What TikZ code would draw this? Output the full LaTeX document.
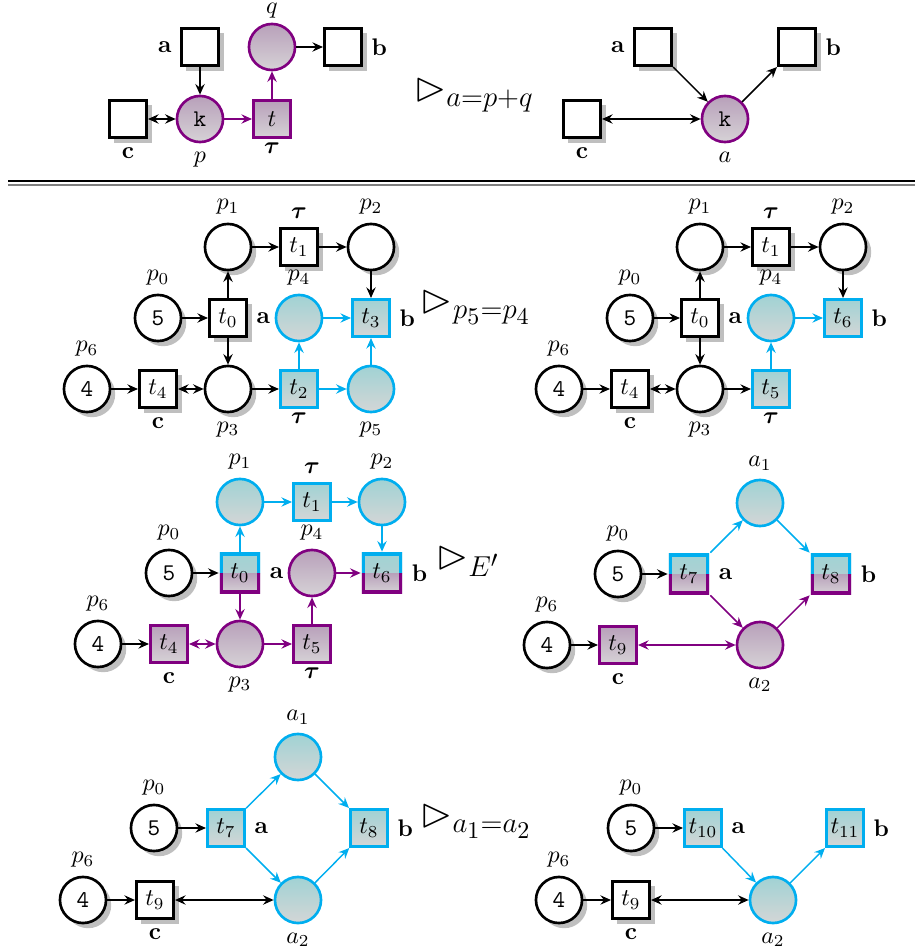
\documentclass[tikz,border=0pt]{standalone}
\usepackage{amssymb,bm}
\usetikzlibrary{arrows.meta,shadows}

\definecolor{cyanedge}{RGB}{0,174,239}
\definecolor{cyantop}{RGB}{160,210,212}
\definecolor{cyanmid}{RGB}{186,208,209}
\definecolor{cyanbot}{RGB}{212,214,214}
\definecolor{purpedge}{RGB}{128,0,128}
\definecolor{purptop}{RGB}{184,160,186}
\definecolor{purpbot}{RGB}{214,210,214}

\tikzset{
  netplace/.style={circle, draw, line width=1.1pt, minimum size=19.2pt, inner sep=0pt},
  nettrans/.style={rectangle, draw, line width=1.1pt, minimum size=15.6pt, inner sep=0pt},
  white node/.style={fill=white, drop shadow},
  cyan node/.style={draw=cyanedge, top color=cyantop, bottom color=cyanbot},
  purple node/.style={draw=purpedge, top color=purptop, bottom color=purpbot},
  split node/.style={nettrans, draw=none, minimum size=16.7pt, path picture={
    \fill[top color=cyantop, bottom color=cyanmid] (path picture bounding box.north west) rectangle (path picture bounding box.east);
    \fill[top color=purptop, bottom color=purpbot] (path picture bounding box.west) rectangle (path picture bounding box.south east);
    \draw[cyanedge, line width=2.2pt] (path picture bounding box.west) |- (path picture bounding box.north east) -- (path picture bounding box.east);
    \draw[purpedge, line width=2.2pt] (path picture bounding box.west) |- (path picture bounding box.south east) -- (path picture bounding box.east);
  }},
  flow/.style={->, semithick},
  cyan flow/.style={flow, cyanedge},
  purple flow/.style={flow, purpedge},
  tau below/.style={label={[label distance=-2pt]below:$\bm{\tau}$}},
  tau above/.style={label={above:$\bm{\tau}$}},
  rule/.style={font=\LARGE}
}

\begin{document}
\begin{tikzpicture}[x=0.4167pt, y=-0.4167pt, >={Stealth[length=4.4pt,width=3.9pt,inset=1.5pt]}]
  \useasboundingbox (0,0) rectangle (915,951);
  % Top row, left: places p and q
  \node[nettrans, white node, label=left:\textbf{a}] (Aa) at (200,47) {};
  \node[netplace, purple node, label={[inner sep=0.5pt, label distance=1.1pt]above:$q$}] (Aq) at (272,47) {};
  \node[nettrans, white node, label=right:\textbf{b}] (Ab) at (343,47) {};
  \node[nettrans, white node, label=below:\textbf{c}] (Ac) at (128,119) {};
  \node[netplace, purple node, label=below:$p$] (Ap) at (200,119) {\texttt{k}};
  \node[nettrans, purple node, tau below] (At) at (272,119) {$t$};
  \draw[flow] (Aa) -- (Ap);
  \draw[flow, <->] (Ac) -- (Ap);
  \draw[purple flow] (Ap) -- (At);
  \draw[purple flow] (At) -- (Aq);
  \draw[flow] (Aq) -- (Ab);
  \node[rule] (Arule) at (474,95) {$\rhd_{a=p+q}$};
  % Top row, right: merged place a
  \node[nettrans, white node, label=left:\textbf{a}] (Ba) at (653,47) {};
  \node[nettrans, white node, label=right:\textbf{b}] (Bb) at (797,47) {};
  \node[nettrans, white node, label=below:\textbf{c}] (Bc) at (582,119) {};
  \node[netplace, purple node, label=below:$a$] (Bk) at (725,119) {\texttt{k}};
  \draw[flow] (Ba) -- (Bk);
  \draw[flow] (Bk) -- (Bb);
  \draw[flow, <->] (Bc) -- (Bk);
  % Separator
  \draw[semithick] (8,181) -- (915,181);
  \draw[gray, line width=0.9pt] (8,185) -- (915,185);
  % Second row, left
  \node[netplace, white node, label=above:$p_1$] (Cp1) at (228,247) {};
  \node[nettrans, white node, tau above] (Ct1) at (299,247) {$t_1$};
  \node[netplace, white node, label=above:$p_2$] (Cp2) at (371,247) {};
  \node[netplace, white node, label=above:$p_0$] (Cp0) at (158,318) {\texttt{5}};
  \node[nettrans, white node, label=right:\textbf{a}] (Ct0) at (228,318) {$t_0$};
  \node[netplace, cyan node, label=above:$p_4$] (Cp4) at (299,318) {};
  \node[nettrans, cyan node, label=right:\textbf{b}] (Ct3) at (371,318) {$t_3$};
  \node[netplace, white node, label=above:$p_6$] (Cp6) at (87,389) {\texttt{4}};
  \node[nettrans, white node, label=below:\textbf{c}] (Ct4) at (158,389) {$t_4$};
  \node[netplace, white node, label=below:$p_3$] (Cp3) at (228,389) {};
  \node[nettrans, cyan node, tau below] (Ct2) at (299,389) {$t_2$};
  \node[netplace, cyan node, label=below:$p_5$] (Cp5) at (371,389) {};
  \draw[flow] (Cp1) -- (Ct1);
  \draw[flow] (Ct1) -- (Cp2);
  \draw[flow] (Cp2) -- (Ct3);
  \draw[flow] (Cp0) -- (Ct0);
  \draw[flow] (Ct0) -- (Cp1);
  \draw[flow] (Ct0) -- (Cp3);
  \draw[flow] (Cp6) -- (Ct4);
  \draw[flow, <->] (Ct4) -- (Cp3);
  \draw[flow] (Cp3) -- (Ct2);
  \draw[cyan flow] (Ct2) -- (Cp4);
  \draw[cyan flow] (Ct2) -- (Cp5);
  \draw[cyan flow] (Cp4) -- (Ct3);
  \draw[cyan flow] (Cp5) -- (Ct3);
  \node[rule] (Crule) at (476,307) {$\rhd_{p_5=p_4}$};
  % Second row, right
  \node[netplace, white node, label=above:$p_1$] (Dp1) at (700,247) {};
  \node[nettrans, white node, tau above] (Dt1) at (771,247) {$t_1$};
  \node[netplace, white node, label=above:$p_2$] (Dp2) at (843,247) {};
  \node[netplace, white node, label=above:$p_0$] (Dp0) at (630,318) {\texttt{5}};
  \node[nettrans, white node, label=right:\textbf{a}] (Dt0) at (700,318) {$t_0$};
  \node[netplace, cyan node, label=above:$p_4$] (Dp4) at (771,318) {};
  \node[nettrans, cyan node, label=right:\textbf{b}] (Dt6) at (843,318) {$t_6$};
  \node[netplace, white node, label=above:$p_6$] (Dp6) at (559,389) {\texttt{4}};
  \node[nettrans, white node, label=below:\textbf{c}] (Dt4) at (630,389) {$t_4$};
  \node[netplace, white node, label=below:$p_3$] (Dp3) at (700,389) {};
  \node[nettrans, cyan node, tau below] (Dt5) at (771,389) {$t_5$};
  \draw[flow] (Dp1) -- (Dt1);
  \draw[flow] (Dt1) -- (Dp2);
  \draw[flow] (Dp2) -- (Dt6);
  \draw[flow] (Dp0) -- (Dt0);
  \draw[flow] (Dt0) -- (Dp1);
  \draw[flow] (Dt0) -- (Dp3);
  \draw[flow] (Dp6) -- (Dt4);
  \draw[flow, <->] (Dt4) -- (Dp3);
  \draw[flow] (Dp3) -- (Dt5);
  \draw[cyan flow] (Dt5) -- (Dp4);
  \draw[cyan flow] (Dp4) -- (Dt6);
  % Third row, left
  \node[netplace, cyan node, label=above:$p_1$] (Ep1) at (240,502) {};
  \node[nettrans, cyan node, tau above] (Et1) at (312,502) {$t_1$};
  \node[netplace, cyan node, label=above:$p_2$] (Ep2) at (382,502) {};
  \node[netplace, white node, label=above:$p_0$] (Ep0) at (169,573) {\texttt{5}};
  \node[split node, label=right:\textbf{a}] (Et0) at (240,573) {$t_0$};
  \node[netplace, purple node, label=above:$p_4$] (Ep4) at (312,573) {};
  \node[split node, label=right:\textbf{b}] (Et6) at (382,573) {$t_6$};
  \node[netplace, white node, label=above:$p_6$] (Ep6) at (98,644) {\texttt{4}};
  \node[nettrans, purple node, label=below:\textbf{c}] (Et4) at (169,644) {$t_4$};
  \node[netplace, purple node, label=below:$p_3$] (Ep3) at (240,644) {};
  \node[nettrans, purple node, tau below] (Et5) at (312,644) {$t_5$};
  \draw[flow] (Ep0) -- (Et0);
  \draw[flow] (Ep6) -- (Et4);
  \draw[cyan flow] (Et0) -- (Ep1);
  \draw[cyan flow] (Ep1) -- (Et1);
  \draw[cyan flow] (Et1) -- (Ep2);
  \draw[cyan flow] (Ep2) -- (Et6);
  \draw[purple flow] (Et0) -- (Ep3);
  \draw[purple flow, <->] (Et4) -- (Ep3);
  \draw[purple flow] (Ep3) -- (Et5);
  \draw[purple flow] (Et5) -- (Ep4);
  \draw[purple flow] (Ep4) -- (Et6);
  \node[rule] (Erule) at (468,561) {$\rhd_{E'}$};
  % Third row, right
  \node[netplace, cyan node, label=above:$a_1$] (Fa1) at (760,503) {};
  \node[netplace, white node, label=above:$p_0$] (Fp0) at (618,574) {\texttt{5}};
  \node[split node, label=right:\textbf{a}] (Ft7) at (689,574) {$t_7$};
  \node[split node, label=right:\textbf{b}] (Ft8) at (831,574) {$t_8$};
  \node[netplace, white node, label=above:$p_6$] (Fp6) at (547,645) {\texttt{4}};
  \node[nettrans, purple node, label=below:\textbf{c}] (Ft9) at (618,645) {$t_9$};
  \node[netplace, purple node, label=below:$a_2$] (Fa2) at (760,645) {};
  \draw[flow] (Fp0) -- (Ft7);
  \draw[flow] (Fp6) -- (Ft9);
  \draw[cyan flow] (Ft7) -- (Fa1);
  \draw[cyan flow] (Fa1) -- (Ft8);
  \draw[purple flow] (Ft7) -- (Fa2);
  \draw[purple flow] (Fa2) -- (Ft8);
  \draw[purple flow, <->] (Ft9) -- (Fa2);
  % Fourth row, left
  \node[netplace, cyan node, label=above:$a_1$] (Ga1) at (298,757) {};
  \node[netplace, white node, label=above:$p_0$] (Gp0) at (154,828) {\texttt{5}};
  \node[nettrans, cyan node, label=right:\textbf{a}] (Gt7) at (226,828) {$t_7$};
  \node[nettrans, cyan node, label=right:\textbf{b}] (Gt8) at (369,828) {$t_8$};
  \node[netplace, white node, label=above:$p_6$] (Gp6) at (83,900) {\texttt{4}};
  \node[nettrans, white node, label=below:\textbf{c}] (Gt9) at (155,900) {$t_9$};
  \node[netplace, cyan node, label=below:$a_2$] (Ga2) at (298,900) {};
  \draw[flow] (Gp0) -- (Gt7);
  \draw[flow] (Gp6) -- (Gt9);
  \draw[flow, <->] (Gt9) -- (Ga2);
  \draw[cyan flow] (Gt7) -- (Ga1);
  \draw[cyan flow] (Ga1) -- (Gt8);
  \draw[cyan flow] (Gt7) -- (Ga2);
  \draw[cyan flow] (Ga2) -- (Gt8);
  \node[rule] (Grule) at (476,821) {$\rhd_{a_1=a_2}$};
  % Fourth row, right
  \node[netplace, white node, label=above:$p_0$] (Hp0) at (631,828) {\texttt{5}};
  \node[nettrans, cyan node, label=right:\textbf{a}] (Ht10) at (703,828) {$t_{10}$};
  \node[nettrans, cyan node, label=right:\textbf{b}] (Ht11) at (845,828) {$t_{11}$};
  \node[netplace, white node, label=above:$p_6$] (Hp6) at (559,900) {\texttt{4}};
  \node[nettrans, white node, label=below:\textbf{c}] (Ht9) at (631,900) {$t_9$};
  \node[netplace, cyan node, label=below:$a_2$] (Ha2) at (773,900) {};
  \draw[flow] (Hp0) -- (Ht10);
  \draw[flow] (Hp6) -- (Ht9);
  \draw[flow, <->] (Ht9) -- (Ha2);
  \draw[cyan flow] (Ht10) -- (Ha2);
  \draw[cyan flow] (Ha2) -- (Ht11);
\end{tikzpicture}
\end{document}
